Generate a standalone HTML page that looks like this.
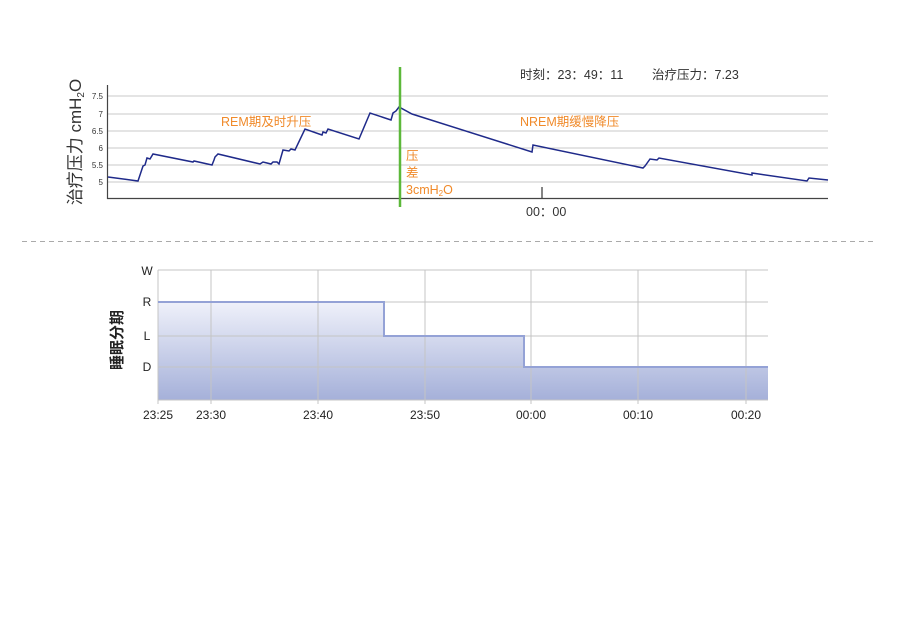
<!DOCTYPE html>
<html><head><meta charset="utf-8"><style>
body{margin:0;background:#fff;}
svg{display:block;font-family:"Liberation Sans","Noto Sans CJK SC",sans-serif;}
</style></head><body>
<svg width="898" height="620" viewBox="0 0 898 620">
<defs><linearGradient id="g" x1="0" y1="0" x2="0" y2="1">
<stop offset="0" stop-color="#eff1fa"/><stop offset="1" stop-color="#a5b0d9"/></linearGradient></defs>
<g stroke="#c8c8c8" stroke-width="1">
<line x1="107" y1="96" x2="828" y2="96"/><line x1="107" y1="114" x2="828" y2="114"/>
<line x1="107" y1="131" x2="828" y2="131"/><line x1="107" y1="148" x2="828" y2="148"/>
<line x1="107" y1="165" x2="828" y2="165"/><line x1="107" y1="182" x2="828" y2="182"/>
</g>
<line x1="107.5" y1="85" x2="107.5" y2="199" stroke="#444" stroke-width="1.2"/>
<line x1="107" y1="198.5" x2="828" y2="198.5" stroke="#444" stroke-width="1.2"/>
<line x1="542" y1="187" x2="542" y2="198" stroke="#333" stroke-width="1.2"/>
<g font-size="8" fill="#333" text-anchor="end">
<text x="103" y="99">7.5</text><text x="103" y="117">7</text><text x="103" y="134">6.5</text>
<text x="103" y="151">6</text><text x="103" y="168">5.5</text><text x="103" y="185">5</text></g>
<text transform="translate(81,142) rotate(-90)" font-size="17" fill="#333" text-anchor="middle">治疗压力  cmH<tspan font-size="10" dy="3">2</tspan><tspan dy="-3">O</tspan></text>
<polyline fill="none" stroke="#1f2a8a" stroke-width="1.5" points="108,177 138,181 143,166 145,165 147,158 150,159 153,154 193,162 194,161 212,165 214,160 215,157 218,154 260,164 263,162 267,163 271,164 273,162 277,162 279,164 283,150 289,151 291,149 295,150 305,129 322,135 323,132 326,133 328,129 359,139 370,113 391,120 393,113 396,111 399,107 412,114 532,152 533,145 643,168 645,166 650,159 657,160 659,158 752,175 752,173 807,181 809,178 828,180"/>
<line x1="400" y1="67" x2="400" y2="207" stroke="#5cb83a" stroke-width="2.5"/>
<g fill="#f08a2a" font-size="12.5">
<text x="221" y="126">REM期及时升压</text>
<text x="520" y="126">NREM期缓慢降压</text>
<text x="406" y="160">压</text><text x="406" y="177">差</text>
<text x="406" y="194">3cmH<tspan font-size="8" dy="2">2</tspan><tspan dy="-2">O</tspan></text></g>
<g fill="#333" font-size="12.5">
<text x="520" y="79">时刻：23：49：11</text>
<text x="652" y="79">治疗压力：7.23</text>
<text x="526" y="216">00：00</text></g>
<line x1="22" y1="241.5" x2="876" y2="241.5" stroke="#aaa" stroke-dasharray="5,4"/>
<path d="M158,302 H384 V336 H524 V367 H768 V400 H158 Z" fill="url(#g)"/>
<g stroke="#c4c4c4" stroke-width="1">
<line x1="158" y1="270" x2="768" y2="270"/><line x1="158" y1="302" x2="768" y2="302"/>
<line x1="158" y1="336" x2="768" y2="336"/><line x1="158" y1="367" x2="768" y2="367"/>
<line x1="158" y1="400" x2="768" y2="400"/>
<line x1="211" y1="270" x2="211" y2="404"/><line x1="318" y1="270" x2="318" y2="404"/>
<line x1="425" y1="270" x2="425" y2="404"/><line x1="531" y1="270" x2="531" y2="404"/>
<line x1="638" y1="270" x2="638" y2="404"/><line x1="746" y1="270" x2="746" y2="404"/>
<line x1="158" y1="270" x2="158" y2="404"/></g>
<polyline fill="none" stroke="#94a2d6" stroke-width="2" points="158,302 384,302 384,336 524,336 524,367 768,367"/>
<g fill="#222" font-size="12" text-anchor="middle">
<text x="147" y="275">W</text><text x="147" y="306">R</text><text x="147" y="340">L</text><text x="147" y="371">D</text>
<text x="158" y="419">23:25</text><text x="211" y="419">23:30</text><text x="318" y="419">23:40</text>
<text x="425" y="419">23:50</text><text x="531" y="419">00:00</text><text x="638" y="419">00:10</text><text x="746" y="419">00:20</text></g>
<text transform="translate(122,340) rotate(-90)" font-size="15" font-weight="bold" fill="#222" text-anchor="middle">睡眠分期</text>
</svg>
</body></html>
